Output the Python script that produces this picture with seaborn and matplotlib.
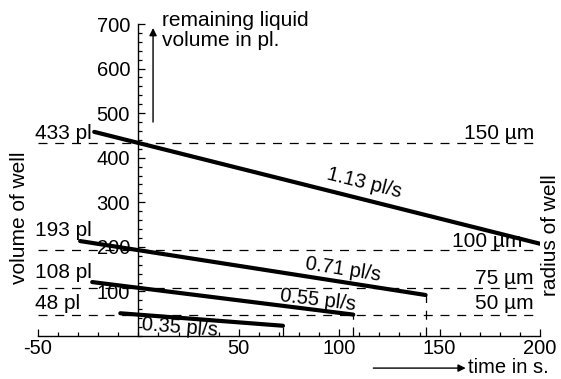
import seaborn as sns
import numpy as np
import pandas as pd
import matplotlib.pyplot as plt
import matplotlib.ticker as ticker

# evaporation lines, values
rates = ['1.13 pl/s', '0.71 pl/s', '0.55 pl/s', '0.35 pl/s']
t_start = [-22, -29, -23, -9]
t_end = [200, 143, 107, 72]
v_start = [458, 213, 121, 51]
v_end = [207, 92, 48, 23]

# initial well volumes and radii
well_volumes = [433, 193, 108, 48]
volume_labels = ['433 pl', '193 pl', '108 pl', '48 pl']
radius_labels = ['150 \u00b5m', '100 \u00b5m', '75 \u00b5m', '50 \u00b5m']

x_ticks = [-50, 50, 100, 150, 200]
y_ticks = [100, 200, 300, 400, 500, 600, 700]

sns.set_style("ticks")
plt.rcParams['font.family'] = ['Liberation Sans', 'DejaVu Sans']
plt.rcParams['axes.unicode_minus'] = False
for k in ['text.color', 'axes.labelcolor', 'xtick.color', 'ytick.color',
          'axes.edgecolor']:
    plt.rcParams[k] = 'black'
fs_tick = 14.5
fs = 15

fig = plt.figure(figsize=(5.61, 3.79), dpi=100)
ax = fig.add_axes([38 / 561, 1 - 336 / 379, 502 / 561, 312 / 379])

rows = []
for r, t0, t1, v0, v1 in zip(rates, t_start, t_end, v_start, v_end):
    rows.append({'rate': r, 't': t0, 'V': v0})
    rows.append({'rate': r, 't': t1, 'V': v1})
df = pd.DataFrame(rows)

sns.lineplot(data=df, x='t', y='V', units='rate', estimator=None,
             color='black', lw=3, ax=ax, legend=False, zorder=3)

dash = (0, (7.2, 6.2))
# dashed well-volume levels
ax.hlines(well_volumes, -50, 197, colors='black', lw=0.9,
          linestyles=dash, zorder=2)
# drop lines at the end of the shorter lines
ax.vlines(t_end[1:], 0, v_end[1:], colors='black', lw=0.9,
          linestyles=dash, zorder=2)

ax.set_xlim(-50, 200)
ax.set_ylim(0, 700)
ax.spines['left'].set_position(('data', 0))
ax.spines['top'].set_visible(False)
ax.spines['right'].set_visible(False)
for s in ['left', 'bottom']:
    ax.spines[s].set_linewidth(1.0)
ax.set_xticks(x_ticks)
ax.set_yticks(y_ticks)
ax.xaxis.set_minor_locator(ticker.MultipleLocator(10))
ax.yaxis.set_minor_locator(ticker.MultipleLocator(20))
ax.tick_params(which='both', direction='in', labelsize=fs_tick, width=0.9)
ax.tick_params(which='major', length=5)
ax.tick_params(which='minor', length=3)
ax.tick_params(axis='x', pad=2.5)
ax.tick_params(axis='y', pad=6)
ax.set_xlabel('')
ax.set_ylabel('')
ax.set_facecolor('none')

# left volume labels
left_off = [3, 10, 7, 4]
for v, lab, off in zip(well_volumes, volume_labels, left_off):
    ax.annotate(lab, xy=(-51.5, v), xytext=(0, off), textcoords='offset points',
                ha='left', va='baseline', fontsize=fs, annotation_clip=False)

# right radius labels
right_x = [197, 191, 197, 197]
right_off = [3, 2, 3, 4]
for v, lab, x, off in zip(well_volumes, radius_labels, right_x, right_off):
    ax.annotate(lab, xy=(x, v), xytext=(0, off), textcoords='offset points',
                ha='right', va='baseline', fontsize=fs, annotation_clip=False)

# rate labels along the lines
label_pos = [(112.5, 343), (102, 148), (89.6, 81), (20.4, 18)]
rate_vals = [1.13, 0.71, 0.55, 0.35]
for (x, y), lab, rv in zip(label_pos, rates, rate_vals):
    ang = np.degrees(np.arctan(rv * (312 / 700) / (502 / 250)))
    ax.text(x, y, lab, fontsize=14.5, rotation=-ang, rotation_mode='anchor',
            ha='center', va='center')

# arrows and their captions
ax.annotate('', xy=(163, -72), xytext=(117, -72), annotation_clip=False,
            arrowprops=dict(arrowstyle='-|>', color='black', lw=1,
                            mutation_scale=11, shrinkA=0, shrinkB=0))
ax.annotate('', xy=(7.3, 691), xytext=(7.3, 480), annotation_clip=False,
            arrowprops=dict(arrowstyle='-|>', color='black', lw=1,
                            mutation_scale=11, shrinkA=0, shrinkB=0))
ax.text(12, 730, 'remaining liquid\nvolume in pl.', fontsize=fs, ha='left',
        va='top', linespacing=1.1, clip_on=False)
ax.text(164, -82, 'time in s.', fontsize=14.5, ha='left', va='baseline',
        clip_on=False)

fig.text(20 / 561, 1 - 218 / 379, 'volume of well', rotation=90, fontsize=fs,
         ha='center', va='center')
fig.text(550 / 561, 1 - 235 / 379, 'radius of well', rotation=90, fontsize=fs,
         ha='center', va='center')

fig.savefig('out.png', dpi=100)
